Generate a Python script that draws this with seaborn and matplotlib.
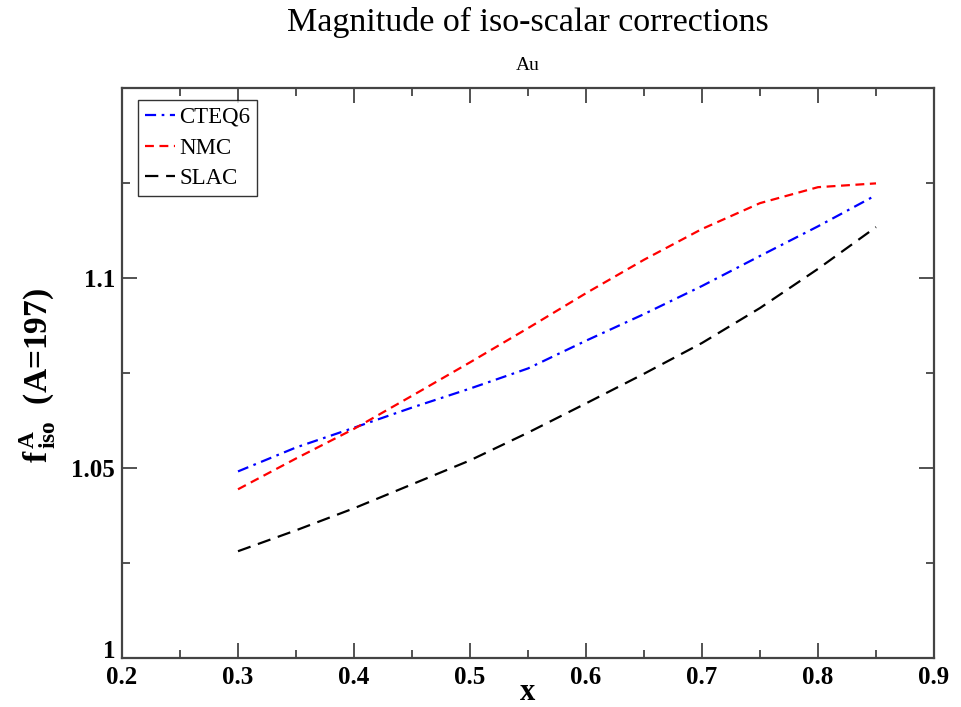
import matplotlib
matplotlib.use("Agg")
import matplotlib.pyplot as plt
import seaborn as sns
import numpy as np
import pandas as pd
from matplotlib.ticker import MultipleLocator, FixedLocator

x_vals = [0.30, 0.35, 0.40, 0.45, 0.50, 0.55, 0.60, 0.65, 0.70, 0.75, 0.80, 0.85]
cteq6 = [1.0491, 1.0554, 1.0606, 1.0659, 1.0709, 1.0762, 1.0835, 1.0905, 1.0979, 1.1058, 1.1136, 1.1218]
nmc = [1.0444, 1.0525, 1.0603, 1.0690, 1.0778, 1.0868, 1.0960, 1.1048, 1.1129, 1.1197, 1.1239, 1.1249]
slac = [1.0281, 1.0336, 1.0394, 1.0457, 1.0520, 1.0593, 1.0670, 1.0748, 1.0829, 1.0921, 1.1024, 1.1134]
series_names = ["CTEQ6", "NMC", "SLAC"]
x_ticks = [0.2, 0.3, 0.4, 0.5, 0.6, 0.7, 0.8, 0.9]
y_ticks = [1.0, 1.05, 1.1]
y_tick_labels = ["1", "1.05", "1.1"]

sns.set_style("ticks")
plt.rcParams['font.family'] = ['Liberation Serif', 'DejaVu Serif']
plt.rcParams['mathtext.fontset'] = 'custom'
plt.rcParams['mathtext.rm'] = 'Liberation Serif'
plt.rcParams['mathtext.bf'] = 'Liberation Serif:bold'
plt.rcParams['mathtext.it'] = 'Liberation Serif:italic'
plt.rcParams['text.color'] = 'black'
plt.rcParams['axes.labelcolor'] = 'black'
plt.rcParams['xtick.labelcolor'] = 'black'
plt.rcParams['ytick.labelcolor'] = 'black'

df = pd.DataFrame({
    "x": x_vals * 3,
    "f": cteq6 + nmc + slac,
    "set": [series_names[0]] * len(x_vals) + [series_names[1]] * len(x_vals) + [series_names[2]] * len(x_vals),
})

fig = plt.figure(figsize=(9.62, 7.07), dpi=100)
ax = fig.add_axes([122/962, 49/707, (934-122)/962, (658-88)/707])

colors = {"CTEQ6": "#0000ff", "NMC": "#ff0000", "SLAC": "#000000"}
dashes = {"CTEQ6": (5, 2.5, 1.2, 2.5), "NMC": (4, 2.5), "SLAC": (6, 3.5)}
sns.lineplot(data=df, x="x", y="f", hue="set", style="set", palette=colors,
             dashes=dashes, linewidth=1.6, ax=ax, legend=True)

ax.set_xlim(0.2, 0.9)
ax.set_ylim(1.0, 1.15)
ax.xaxis.set_major_locator(FixedLocator(x_ticks))
ax.xaxis.set_minor_locator(MultipleLocator(0.05))
ax.yaxis.set_major_locator(FixedLocator(y_ticks))
ax.yaxis.set_minor_locator(FixedLocator([1.025, 1.075, 1.125]))
ax.set_xticklabels([f"{t:.1f}" for t in x_ticks])
ax.set_yticklabels(y_tick_labels)
for lab in ax.get_xticklabels() + ax.get_yticklabels():
    lab.set_fontweight("bold")
    lab.set_fontsize(18)
    lab.set_color("black")
ax.get_yticklabels()[0].set_va("baseline")

ax.tick_params(which="both", direction="in", top=True, right=True, color="#444444", width=1.3)
ax.tick_params(which="major", length=11)
ax.tick_params(axis="y", which="major", pad=5)
ax.tick_params(axis="x", which="major", pad=6)
ax.tick_params(which="minor", length=6)
for s in ax.spines.values():
    s.set_color("#444444")
    s.set_linewidth(1.6)
    s.set_visible(True)

ax.set_xlabel("x", fontsize=22, fontweight="bold", labelpad=-8)
ax.set_ylabel(r"$\mathbf{f^{\,A}_{\,iso}}$  (A=197)", fontsize=24, fontweight="bold")
ax.yaxis.set_label_coords(-64/812, 0.5 + (373 - 375)/570)

fig.text(528/962, 1 - 22/707, "Magnitude of iso-scalar corrections", ha="center", va="center", fontsize=24.5)
fig.text(528/962, 1 - 65/707, "Au", ha="center", va="center", fontsize=14)

leg = ax.legend(loc="upper left", bbox_to_anchor=(16/812, 1 - 12/570), fontsize=16.5,
                frameon=True, fancybox=False, edgecolor="black", handlelength=1.3,
                handletextpad=0.2, borderpad=0.3, labelspacing=0.42, borderaxespad=0)
leg.get_frame().set_linewidth(1.0)
for t in leg.get_texts():
    t.set_color("black")

fig.savefig("out.png", dpi=100)
